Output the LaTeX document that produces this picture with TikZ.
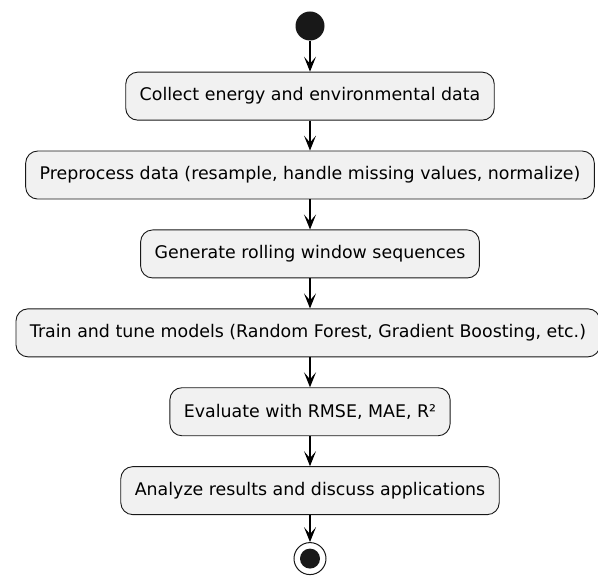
\documentclass[tikz,border=0pt]{standalone}
\usepackage{fontspec}
\setmainfont{DejaVu Sans}
\usetikzlibrary{arrows.meta, positioning}
\definecolor{actfill}{HTML}{F1F1F1}
\definecolor{actline}{HTML}{181818}

\begin{document}
\begin{tikzpicture}[
  x=1pt, y=1pt,
  node distance=30pt,
  activity/.style={rectangle, rounded corners=12pt, minimum height=48pt,
    inner xsep=14pt, text centered, draw=actline, line width=0.9pt,
    fill=actfill, font=\fontsize{17.4}{20}\selectfont},
  initial/.style={circle, fill=actline, minimum size=29pt, inner sep=0pt},
  final/.style={circle, draw=actline, line width=1pt, fill=white,
    minimum size=32pt, inner sep=0pt},
  arrow/.style={-{Stealth[length=15pt, width=12pt, inset=7pt]}, line width=1.1pt}
]
\useasboundingbox (0,0) rectangle (598,-577);

\node (start) [initial] at (310,-26) {};
\node (collect) [activity, below=31pt of start] {Collect energy and environmental data};
\node (prep) [activity, below=of collect] {Preprocess data (resample, handle missing values, normalize)};
\node (window) [activity, below=of prep] {Generate rolling window sequences};
\node (train) [activity, below=of window, xshift=-2pt] {Train and tune models (Random Forest, Gradient Boosting, etc.)};
\node (eval) [activity, below=of train, xshift=2pt] {Evaluate with RMSE, MAE, R²};
\node (analyze) [activity, below=of eval] {Analyze results and discuss applications};
\node (stop) [final, below=27pt of analyze] {};
\fill [actline] (stop) circle (10pt);

\draw [arrow] (start) -- (collect);
\draw [arrow] (collect) -- (prep);
\draw [arrow] (prep) -- (window);
\draw [arrow] (window) -- (train.north -| window);
\draw [arrow] (train.south -| eval) -- (eval);
\draw [arrow] (eval) -- (analyze);
\draw [arrow] (analyze) -- (stop);

\end{tikzpicture}
\end{document}
